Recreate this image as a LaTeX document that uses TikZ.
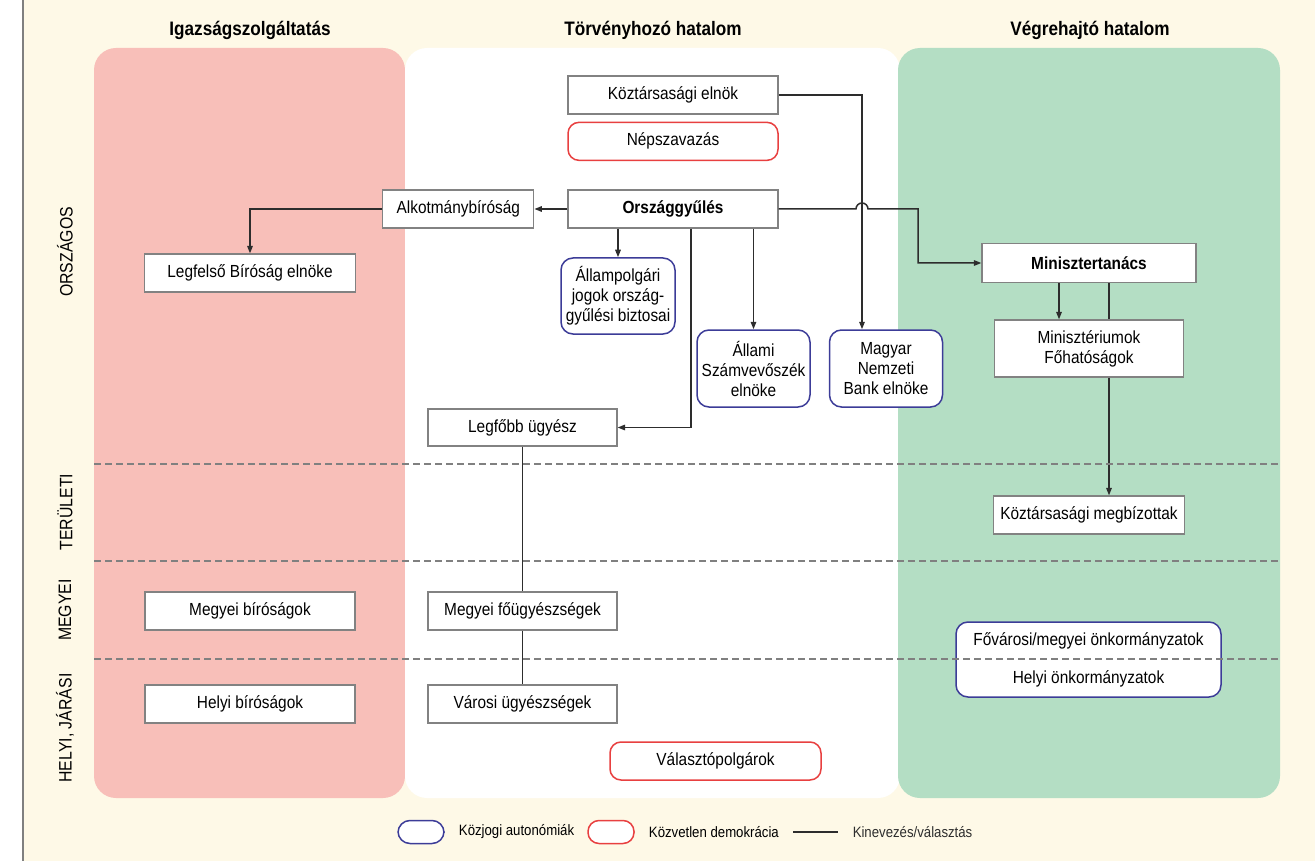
\documentclass[tikz,border=0pt]{standalone}
\usepackage{fontspec}
\setmainfont{Liberation Sans}[FakeStretch=0.88]
\usetikzlibrary{arrows.meta, positioning}
\definecolor{paper}{RGB}{254,249,231}
\definecolor{courtpink}{RGB}{248,191,185}
\definecolor{govgreen}{RGB}{180,222,196}
\definecolor{autoblue}{RGB}{60,60,152}
\definecolor{directred}{RGB}{232,64,64}
\definecolor{boxgray}{RGB}{130,130,130}
\definecolor{linkgray}{RGB}{45,45,45}
\tikzset{
    office/.style = {
      draw=boxgray, fill=white, line width=1.2pt, inner sep=0, align=center,
      minimum width=210pt, minimum height=38pt,
      font=\fontsize{17.5}{20}\selectfont,
    },
    office bold/.style = {office, font=\fontsize{17.5}{20}\bfseries\selectfont},
    autonomy/.style = {office, draw=autoblue, line width=1.5pt, rounded corners=12pt},
    direct/.style = {office, draw=directred, line width=1.5pt, rounded corners=11pt},
    panel/.style = {rounded corners=22pt},
    link/.style = {line width=1.5pt, linkgray, arrows={-Triangle[length=7.5pt, width=5.5pt]}},
    tie/.style = {line width=1.5pt, linkgray},
    level line/.style = {line width=1.2pt, gray, dash pattern=on 7pt off 4pt},
    column title/.style = {font=\fontsize{19.5}{22}\bfseries\selectfont},
    level title/.style = {rotate=90, font=\fontsize{18}{20}\selectfont},
    legend text/.style = {anchor=west, inner sep=0, font=\fontsize{15}{17}\selectfont},
}
\begin{document}
\begin{tikzpicture}[x=1pt, y=-1pt]
    \useasboundingbox (0,0) rectangle (1315,861);

    %% Paper and the three branches
    \fill [white] (0,0) rectangle (23,861);
    \fill [paper] (23,0) rectangle (1315,861);
    \draw [gray, line width=1.5pt] (23,0) -- (23,861);
    \fill [panel, courtpink] (94,48) rectangle (405,798);
    \fill [panel, white] (405,48) rectangle (900,798);
    \fill [panel, govgreen] (898,48) rectangle (1280,798);

    \node [column title] (judiciary) at (250,30) {Igazságszolgáltatás};
    \node [column title] (legislature) at (653,30) {Törvényhozó hatalom};
    \node [column title] (executive) at (1090,30) {Végrehajtó hatalom};

    \node [level title] (national) at (65,252) {ORSZÁGOS};
    \node [level title] (regional) at (65,512) {TERÜLETI};
    \node [level title] (county) at (65,610) {MEGYEI};
    \node [level title] (local) at (65,728) {HELYI, JÁRÁSI};

    %% National level
    \node [office] (elnok) at (673,95) {Köztársasági elnök};
    \node [direct, below=7pt of elnok] (nepszavazas) {Népszavazás};
    \node [office bold] (orszaggyules) at (673,209) {Országgyűlés};
    \node [office, minimum width=151pt, left=33pt of orszaggyules] (ab) {Alkotmánybíróság};
    \node [office, minimum width=211pt] (legfelso) at (250,273) {Legfelső Bíróság elnöke};
    \node [autonomy, minimum width=114pt, minimum height=76pt] (biztos) at (618,296)
          {Állampolgári\\jogok ország-\\gyűlési biztosai};
    \node [autonomy, minimum width=113pt, minimum height=77pt] (aszsz) at (753.5,368.5)
          {Állami\\Számvevőszék\\elnöke};
    \node [autonomy, minimum width=113pt, minimum height=77pt, right=18pt of aszsz] (mnb)
          {Magyar\\Nemzeti\\Bank elnöke};
    \node [office bold, minimum width=214pt, minimum height=39pt] (kormany) at (1089,263)
          {Minisztertanács};
    \node [office, minimum width=189pt, minimum height=57pt] (miniszterium) at (1089,348.5)
          {Minisztériumok\\Főhatóságok};
    \node [office, minimum width=189pt, minimum height=37pt] (ugyesz) at (522.5,427.5)
          {Legfőbb ügyész};

    %% Regional, county and local levels
    \node [office, minimum width=191pt] (megbizott) at (1089,515) {Köztársasági megbízottak};
    \node [office] (megyeibir) at (250,611) {Megyei bíróságok};
    \node [office, minimum width=189pt] (megyeiugyesz) at (522.5,611) {Megyei főügyészségek};
    \node [autonomy, minimum width=265pt, minimum height=75pt] (onkorm) at (1088.5,659.5)
          {Fővárosi/megyei önkormányzatok\\[18pt]Helyi önkormányzatok};
    \node [office] (helyibir) at (250,704) {Helyi bíróságok};
    \node [office, minimum width=189pt] (varosiugyesz) at (522.5,704) {Városi ügyészségek};
    \node [direct, minimum width=211pt] (valaszto) at (715.5,761) {Választópolgárok};

    %% Appointments and elections
    \coordinate (jump) at (862,209);
    \draw [link] (elnok.east) -| (jump |- mnb.north);
    \draw [link] (orszaggyules.east) -- ([xshift=-6pt]jump)
      arc [start angle=180, end angle=0, radius=6pt] -- ++(50pt,0) |- (kormany.west);
    \draw [link] (orszaggyules.west) -- (ab.east);
    \draw [link] (ab.west) -| (legfelso.north);
    \draw [link] (biztos.north |- orszaggyules.south) -- (biztos.north);
    \draw [link] (aszsz.north |- orszaggyules.south) -- (aszsz.north);
    \draw [link] ([xshift=18pt]orszaggyules.south) |- (ugyesz.east);
    \draw [link] ([xshift=-30pt]kormany.south) -- ([xshift=-30pt]miniszterium.north);
    \draw [tie] ([xshift=20pt]kormany.south) -- ([xshift=20pt]miniszterium.north);
    \draw [link] ([xshift=20pt]miniszterium.south) -- ([xshift=20pt]megbizott.north);
    \draw [tie] (ugyesz) -- (megyeiugyesz);
    \draw [tie] (megyeiugyesz) -- (varosiugyesz);

    %% Level borders
    \foreach \y in {464,561,659}{%
      \draw [level line] (94,\y) -- (1280,\y);
    }

    %% Legend
    \node [autonomy, minimum width=46pt, minimum height=23pt] (keyauto) at (421,832) {};
    \node [legend text, right=14pt of keyauto] (keyautotext) {Közjogi autonómiák};
    \node [direct, minimum width=46pt, minimum height=23pt] (keydirect) at (611,832) {};
    \node [legend text, right=14pt of keydirect] (keydirecttext) {Közvetlen demokrácia};
    \coordinate (keyline) at (793,832);
    \draw [tie] (keyline) -- ++(45pt,0) node [legend text, right=14pt] (keylinetext)
          {Kinevezés/választás};
\end{tikzpicture}
\end{document}
